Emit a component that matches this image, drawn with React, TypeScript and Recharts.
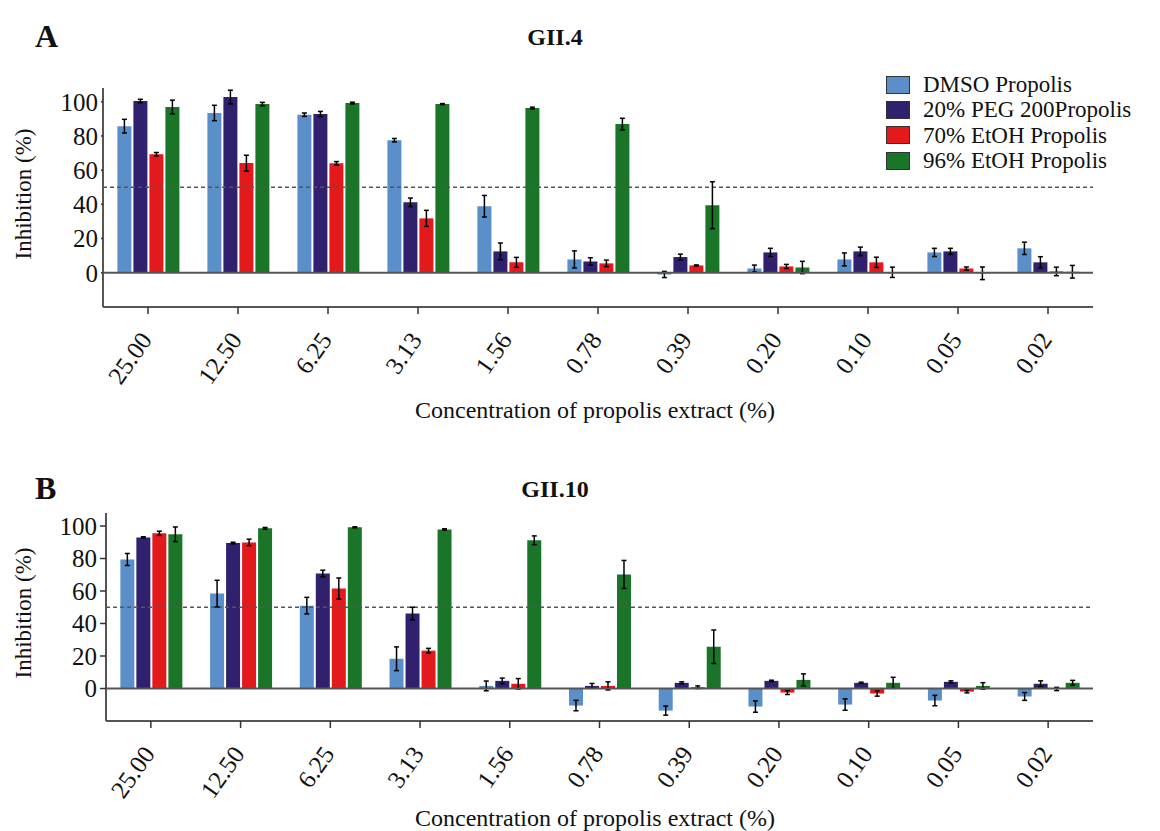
import React from "react";
import { BarChart, Bar, XAxis, YAxis, ReferenceLine, ErrorBar } from "recharts";

const concentrations = ["25.00", "12.50", "6.25", "3.13", "1.56", "0.78", "0.39", "0.20", "0.10", "0.05", "0.02"];
const seriesNames = ["DMSO Propolis", "20% PEG 200Propolis", "70% EtOH Propolis", "96% EtOH Propolis"];
const seriesColors = ["#5b8fc9", "#30206e", "#e3191c", "#1b7528"];
const yTicks = [0, 20, 40, 60, 80, 100];

// GII.4
const gii4Dmso = [85.7, 93.4, 92.4, 77.5, 38.9, 7.8, -1.0, 2.5, 7.8, 11.9, 14.3];
const gii4DmsoErr = [4, 4.5, 1, 1, 6.3, 5, 1.8, 2, 3.8, 2.4, 3.6];
const gii4Peg = [100.4, 102.7, 92.8, 41.2, 12.5, 6.6, 9.2, 11.9, 12.5, 12.5, 6.1];
const gii4PegErr = [1, 4, 1.5, 2.5, 4.9, 2.2, 1.7, 2.4, 2.5, 1.8, 3.3];
const gii4Etoh70 = [69.3, 64.1, 64.0, 31.8, 6.1, 5.5, 4.3, 3.7, 6.1, 2.5, 0.8];
const gii4Etoh70Err = [1, 4.6, 1, 4.7, 2.9, 1.9, 0.3, 1.2, 3, 0.9, 2.5];
const gii4Etoh96 = [96.9, 98.6, 99.2, 98.6, 96.3, 86.9, 39.5, 3.1, 0.3, -0.3, 0.6];
const gii4Etoh96Err = [4, 1, 0.5, 0.3, 0.5, 3.4, 13.7, 3.6, 3, 3.7, 3.7];

// GII.10
const gii10Dmso = [79.4, 58.4, 51.0, 18.3, 1.6, -10.5, -13.6, -11.1, -9.9, -7.4, -4.9];
const gii10DmsoErr = [3.7, 8.2, 5.1, 7.3, 3, 3.2, 2.8, 3.5, 3.5, 3.2, 2.4];
const gii10Peg = [93.0, 89.5, 70.8, 46.1, 4.7, 1.6, 3.5, 4.7, 3.5, 4.1, 2.9];
const gii10PegErr = [0.4, 0.5, 2, 3.9, 1.7, 1.5, 0.6, 0.4, 0.4, 0.6, 1.8];
const gii10Etoh70 = [95.5, 89.9, 61.5, 23.3, 2.9, 1.6, 0.8, -2.5, -3.1, -1.9, -0.3];
const gii10Etoh70Err = [1.3, 2, 6.5, 1.4, 3.2, 2.5, 0.8, 1.2, 1.6, 0.8, 1];
const gii10Etoh96 = [94.9, 98.6, 99.2, 97.9, 91.2, 70.2, 25.7, 5.3, 3.5, 1.6, 3.5];
const gii10Etoh96Err = [4.5, 0.5, 0.3, 0.4, 2.7, 8.6, 10.3, 3.7, 3.4, 2, 1.5];

const serif = "Liberation Serif";

function buildRows(values: number[][], errors: number[][]) {
  return concentrations.map((c, i) => {
    const row: Record<string, number | string> = { c };
    values.forEach((v, s) => {
      row["s" + s] = v[i];
      row["e" + s] = errors[s][i];
    });
    return row;
  });
}

const gii4Rows = buildRows(
  [gii4Dmso, gii4Peg, gii4Etoh70, gii4Etoh96],
  [gii4DmsoErr, gii4PegErr, gii4Etoh70Err, gii4Etoh96Err]
);
const gii10Rows = buildRows(
  [gii10Dmso, gii10Peg, gii10Etoh70, gii10Etoh96],
  [gii10DmsoErr, gii10PegErr, gii10Etoh70Err, gii10Etoh96Err]
);

const XTick = (props: any) => {
  const { x, y, payload } = props;
  const tx = x + 5;
  const ty = y + 24;
  return (
    <text
      x={tx}
      y={ty}
      transform={`rotate(-55 ${tx} ${ty})`}
      textAnchor="end"
      style={{ fontFamily: serif }}
      fontSize={25}
      fill="#111"
    >
      {payload.value}
    </text>
  );
};

function Panel({
  rows,
  top,
  height,
  marginTop,
  marginLeft,
  marginBottom,
  yTickSize,
}: {
  rows: any[];
  top: number;
  height: number;
  marginTop: number;
  marginLeft: number;
  marginBottom: number;
  yTickSize: number;
}) {
  return (
    <div style={{ position: "absolute", left: 0, top, width: 1160, height }}>
      <BarChart
        width={1160}
        height={height}
        data={rows}
        margin={{ top: marginTop, right: 67, bottom: marginBottom, left: marginLeft }}
        barCategoryGap="16%"
        barGap={2}
        style={{ fontFamily: serif }}
      >
        <ReferenceLine y={50} stroke="#555" strokeWidth={1.5} strokeDasharray="4 3" />
        <XAxis
          dataKey="c"
          height={80}
          tick={<XTick />}
          tickSize={7}
          axisLine={{ stroke: "#555", strokeWidth: 2 }}
          tickLine={{ stroke: "#333", strokeWidth: 1.5 }}
          interval={0}
        />
        <YAxis
          width={60}
          domain={[-20, 108]}
          ticks={yTicks}
          interval={0}
          allowDataOverflow
          tickSize={yTickSize}
          tickMargin={3}
          axisLine={{ stroke: "#555", strokeWidth: 2 }}
          tickLine={{ stroke: "#333", strokeWidth: 1.5 }}
          tick={{ fontSize: 25, fill: "#111", style: { fontFamily: serif } }}
        />
        {seriesColors.map((color, s) => (
          <Bar key={s} dataKey={"s" + s} name={seriesNames[s]} fill={color} isAnimationActive={false}>
            <ErrorBar dataKey={"e" + s} width={2.5} stroke="#000" strokeWidth={1.5} />
          </Bar>
        ))}
        <ReferenceLine y={0} stroke="#555" strokeWidth={2} />
      </BarChart>
    </div>
  );
}

const textStyle: React.CSSProperties = {
  position: "absolute",
  fontFamily: serif,
  color: "#111",
  whiteSpace: "nowrap",
  lineHeight: 1,
};

function Texts({ top, panel, title, xTitleTop, yTitleCenter }: any) {
  return (
    <>
      <div style={{ ...textStyle, left: 35, top: top, fontSize: 32, fontWeight: "bold" }}>{panel}</div>
      <div
        style={{
          ...textStyle,
          left: 555,
          top: top + 5,
          fontSize: 24,
          fontWeight: "bold",
          transform: "translateX(-50%)",
        }}
      >
        {title}
      </div>
      <div style={{ ...textStyle, left: 595, top: xTitleTop, fontSize: 24, transform: "translateX(-50%)" }}>
        Concentration of propolis extract (%)
      </div>
      <div
        style={{
          ...textStyle,
          left: 23,
          top: yTitleCenter,
          fontSize: 23,
          transform: "translate(-50%, -50%) rotate(-90deg)",
        }}
      >
        Inhibition (%)
      </div>
    </>
  );
}

export default function App() {
  return (
    <div style={{ position: "absolute", left: 0, top: 0, width: 1160, height: 831, background: "#fff", fontFamily: serif }}>
      <Panel rows={gii4Rows} top={0} height={400} marginTop={88} marginLeft={43} marginBottom={13} yTickSize={2} />
      <Panel rows={gii10Rows} top={430} height={400} marginTop={83} marginLeft={46} marginBottom={29} yTickSize={6} />
      <Texts top={20} panel="A" title="GII.4" xTitleTop={398} yTitleCenter={194} />
      <Texts top={472} panel="B" title="GII.10" xTitleTop={806} yTitleCenter={613} />
      <div style={{ position: "absolute", left: 886, top: 72 }}>
        {seriesNames.map((name, s) => (
          <div key={s} style={{ display: "flex", alignItems: "center", height: 25.3 }}>
            <div
              style={{
                width: 22,
                height: 16,
                background: seriesColors[s],
                border: "1.5px solid #333",
                marginRight: 13,
              }}
            />
            <span style={{ fontFamily: serif, fontSize: 23, color: "#111", lineHeight: 1 }}>{name}</span>
          </div>
        ))}
      </div>
    </div>
  );
}
